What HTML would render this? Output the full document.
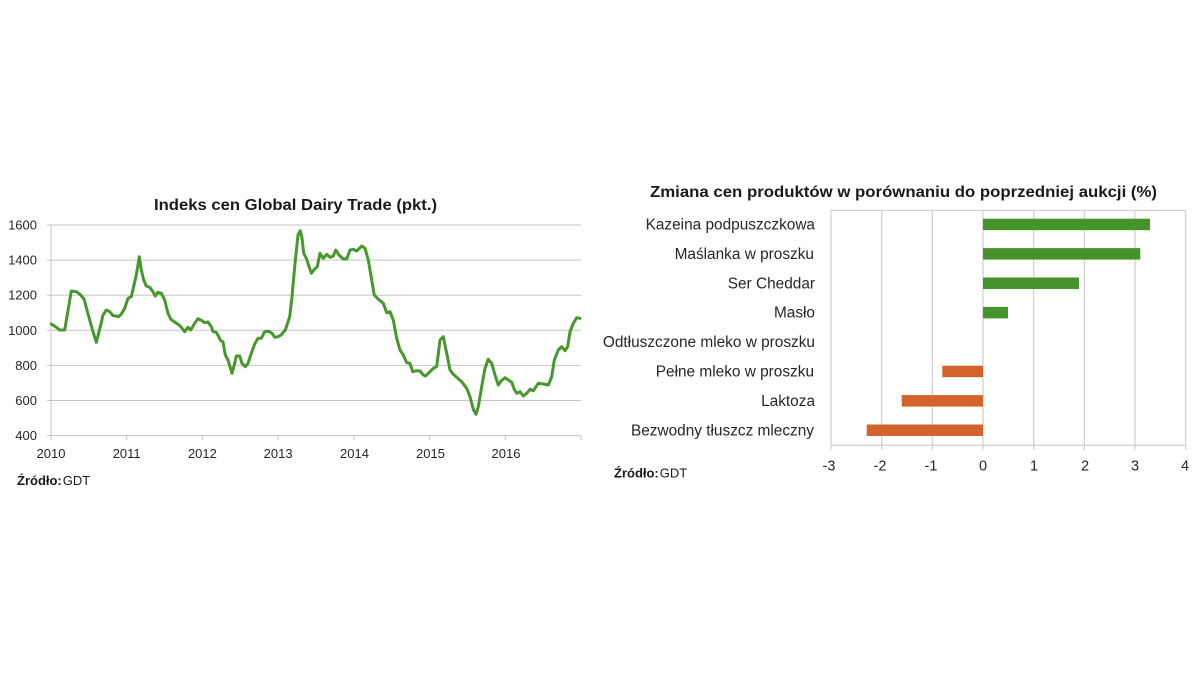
<!DOCTYPE html>
<html>
<head>
<meta charset="utf-8">
<style>
  html,body{margin:0;padding:0;background:#fff;}
  svg{display:block;}
  text{font-family:"Liberation Sans", Arial, sans-serif;}
</style>
</head>
<body>
<svg width="1200" height="675" viewBox="0 0 1200 675" xmlns="http://www.w3.org/2000/svg">
  <rect x="0" y="0" width="1200" height="675" fill="#ffffff"/>

  <!-- ================= LEFT CHART ================= -->
  <text x="154" y="210" font-size="16" font-weight="bold" fill="#1a1a1a" textLength="283" lengthAdjust="spacingAndGlyphs">Indeks cen Global Dairy Trade (pkt.)</text>

  <!-- gridlines -->
  <g stroke="#c6c6c6" stroke-width="1">
    <line x1="47" y1="225" x2="581" y2="225"/>
    <line x1="47" y1="260.1" x2="581" y2="260.1"/>
    <line x1="47" y1="295.2" x2="581" y2="295.2"/>
    <line x1="47" y1="330.3" x2="581" y2="330.3"/>
    <line x1="47" y1="365.4" x2="581" y2="365.4"/>
    <line x1="47" y1="400.5" x2="581" y2="400.5"/>
    <line x1="47" y1="435.6" x2="581" y2="435.6"/>
    <line x1="51" y1="225" x2="51" y2="440"/>
    <line x1="126.7" y1="435.6" x2="126.7" y2="440"/>
    <line x1="202.4" y1="435.6" x2="202.4" y2="440"/>
    <line x1="278.1" y1="435.6" x2="278.1" y2="440"/>
    <line x1="353.9" y1="435.6" x2="353.9" y2="440"/>
    <line x1="429.6" y1="435.6" x2="429.6" y2="440"/>
    <line x1="505.3" y1="435.6" x2="505.3" y2="440"/>
    <line x1="581" y1="435.6" x2="581" y2="440"/>
  </g>

  <!-- y labels -->
  <g font-size="13" fill="#262626" text-anchor="end">
    <text x="37" y="229.5">1600</text>
    <text x="37" y="264.6">1400</text>
    <text x="37" y="299.7">1200</text>
    <text x="37" y="334.8">1000</text>
    <text x="37" y="369.9">800</text>
    <text x="37" y="405">600</text>
    <text x="37" y="440.1">400</text>
  </g>
  <!-- x labels -->
  <g font-size="13" fill="#262626" text-anchor="middle">
    <text x="51" y="458">2010</text>
    <text x="126.7" y="458">2011</text>
    <text x="202.4" y="458">2012</text>
    <text x="278.1" y="458">2013</text>
    <text x="354.5" y="458">2014</text>
    <text x="430.5" y="458">2015</text>
    <text x="506" y="458">2016</text>
  </g>

  <!-- series -->
  <polyline fill="none" stroke="#47982c" stroke-width="3" stroke-linejoin="round" stroke-linecap="round"
    points="51.3,324 56.3,327.3 59.7,330 64.7,330 71.3,291 76.3,291.7 79.7,294 84,299 89.7,320 93,331.7 96.3,342.3 100.7,325 103,315 106.3,310 109.7,311.7 113,315.7 116.3,316 118.7,316.7 121.3,314 124.7,308.3 128,298.3 131.3,296.7 134,285 136.3,275 139.3,256.7 141.3,270 143.7,280 146.3,286 149.7,287.3 153,291.7 155.3,296 158,292.3 161.3,293.3 164.7,300 168,313.3 170.7,319.3 174.7,322 178.7,324.7 181.3,327.3 184.7,331.7 188,327.3 190.7,330 194.7,323.3 198,318.7 202,320.7 204.7,322.7 208,322 211.3,326.7 213,331.7 216.3,332.3 218.7,336.7 220.7,340.7 223,341.7 225.3,355 228,360 232,373.3 234.7,363.3 236.3,356 239.7,356 242,363.3 245.3,366.7 248,363.3 251.3,353.3 254.7,344 258,338.3 261.3,338.3 264.7,331.7 268.7,331.3 272,333.3 274.7,337.3 278,336.7 281.3,334.7 285.3,330 289.7,316.7 292,296.7 294.7,266.7 298,235 300.3,230.7 302,238.3 303.7,253.3 306.3,258.3 311.3,273.3 314.7,269 317.3,266.7 320,253.3 323.3,258.3 326.7,254.3 330,257.3 333.3,256 335.7,250 339,255 343.3,259 346.7,259 350,250 353.3,249.3 356.7,251 361.7,246 365,248.3 368.3,260 371.7,280 374.3,295 378.3,299.3 383.3,303.3 386.7,312.7 390,311.7 393.3,320 396.7,338.3 400,350 403.3,355 406.7,362.7 410,363.3 412.7,371.7 416.7,370.7 420,371 423.3,375 425.7,376 430,371.7 433.3,368.3 436.7,366.7 440,340 443.3,336.7 446.7,353.3 450,370 453.3,374.3 456.7,377.3 461.7,381.7 466.7,388.3 470,396.7 473.3,409.3 476,414.3 478.3,406.7 481.7,386.7 485,368.3 488.3,359.3 491.7,363.3 495,375 498.3,385 501,381 505,377.7 508.3,380 511.7,382.3 514.3,389.3 516.7,393.3 520,391.7 523.3,396 526.7,393.3 530,389.3 533.3,390.7 538.3,383.3 543.3,384 548.3,385 551.7,376.7 554.3,360 558.3,350 561.7,346.7 565,350.7 567.7,346.7 570,331.7 573.3,323.3 576.7,317.7 580,318.3"/>

  <text x="17" y="485" font-size="13" fill="#1a1a1a"><tspan font-weight="bold">Źródło:</tspan><tspan dx="1">GDT</tspan></text>

  <!-- ================= RIGHT CHART ================= -->
  <text x="650" y="197" font-size="16" font-weight="bold" fill="#1a1a1a" textLength="507" lengthAdjust="spacingAndGlyphs">Zmiana cen produktów w porównaniu do poprzedniej aukcji (%)</text>

  <!-- plot box + gridlines -->
  <g stroke="#cfcfcf" stroke-width="1.2">
    <rect x="831" y="210.5" width="354.7" height="234.8" fill="none"/>
    <line x1="881.7" y1="210.5" x2="881.7" y2="450"/>
    <line x1="932.3" y1="210.5" x2="932.3" y2="450"/>
    <line x1="983" y1="210.5" x2="983" y2="450"/>
    <line x1="1033.7" y1="210.5" x2="1033.7" y2="450"/>
    <line x1="1084.4" y1="210.5" x2="1084.4" y2="450"/>
    <line x1="1135" y1="210.5" x2="1135" y2="450"/>
    <line x1="831" y1="445.3" x2="831" y2="450"/>
    <line x1="1185.7" y1="445.3" x2="1185.7" y2="450"/>
  </g>

  <!-- bars -->
  <g fill="#45932a">
    <rect x="983" y="218.7" width="167" height="11.5"/>
    <rect x="983" y="248.1" width="157.3" height="11.5"/>
    <rect x="983" y="277.5" width="96" height="11.5"/>
    <rect x="983" y="306.9" width="25" height="11.5"/>
  </g>
  <g fill="#d3632a">
    <rect x="942.3" y="365.7" width="40.7" height="11.5"/>
    <rect x="901.7" y="395.1" width="81.3" height="11.5"/>
    <rect x="866.7" y="424.5" width="116.3" height="11.5"/>
  </g>

  <!-- category labels -->
  <g font-size="15.4" fill="#262626" text-anchor="end">
    <text x="815" y="229.5">Kazeina podpuszczkowa</text>
    <text x="814" y="258.9">Maślanka w proszku</text>
    <text x="815" y="288.3">Ser Cheddar</text>
    <text x="815" y="317.7">Masło</text>
    <text x="815" y="347.1">Odtłuszczone mleko w proszku</text>
    <text x="814" y="376.5">Pełne mleko w proszku</text>
    <text x="815" y="405.9">Laktoza</text>
    <text x="814" y="435.3">Bezwodny tłuszcz mleczny</text>
  </g>

  <!-- x tick labels -->
  <g font-size="14.5" fill="#262626" text-anchor="middle">
    <text x="829" y="470.5">-3</text>
    <text x="880" y="470.5">-2</text>
    <text x="931" y="470.5">-1</text>
    <text x="983" y="470.5">0</text>
    <text x="1034" y="470.5">1</text>
    <text x="1085" y="470.5">2</text>
    <text x="1135" y="470.5">3</text>
    <text x="1185" y="470.5">4</text>
  </g>

  <text x="614" y="477.5" font-size="13" fill="#1a1a1a"><tspan font-weight="bold">Źródło:</tspan><tspan dx="1">GDT</tspan></text>
</svg>
</body>
</html>
